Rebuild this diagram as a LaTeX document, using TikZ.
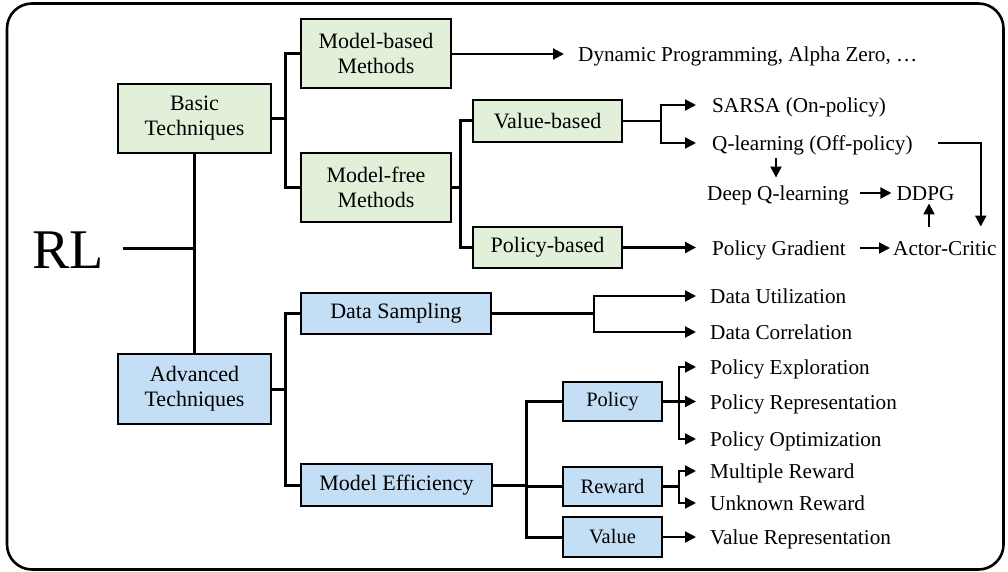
\documentclass[tikz,border=0pt]{standalone}
\usepackage{fontspec}
\setmainfont{Liberation Serif}
\usetikzlibrary{arrows.meta,calc}
\definecolor{gfill}{HTML}{E2F0D9}
\definecolor{bfill}{HTML}{C3DEF5}
\tikzset{
  box/.style={draw=black,line width=1.8pt,inner sep=0pt,align=center,
    font=\fontsize{22}{25}\selectfont},
  gbox/.style={box,fill=gfill},
  bbox/.style={box,fill=bfill},
  sbox/.style={bbox,font=\fontsize{20.5}{24}\selectfont,minimum width=99pt,minimum height=39pt},
  txt/.style={inner sep=0pt,text height=14.5pt,text depth=0pt,font=\fontsize{21.2}{24}\selectfont},
  tree/.style={line width=3pt},
  ln/.style={line width=2.1pt},
  arr/.style={line width=2.1pt,-{Triangle[length=11pt,width=11pt]}},
}
\begin{document}
\begin{tikzpicture}[x=1pt,y=1pt]
\useasboundingbox (0,0) rectangle (1008,-572);
\draw[line width=2.6pt,rounded corners=25pt] (7,-3.5) rectangle (1003.5,-569.5);

% left
\node[anchor=base west,inner sep=0pt,font=\fontsize{56}{60}\selectfont] (rl) at (32,-268) {RL};
\node[gbox,minimum width=153pt,minimum height=69pt] (basic) at (194.5,-118.5) {Basic\\Techniques};
\node[bbox,minimum width=153pt,minimum height=70pt] (adv) at (194.5,-389) {Advanced\\Techniques};

\node[gbox,minimum width=150pt,minimum height=69pt] (mb) at (376,-53.5) {Model-based\\Methods};
\node[gbox,minimum width=150pt,minimum height=69pt] (mf) at (376,-187.5) {Model-free\\Methods};
\node[gbox,minimum width=149pt,minimum height=42pt] (vb) at (547.5,-121) {Value-based};
\node[gbox,minimum width=149pt,minimum height=41pt] (pb) at (547.5,-247.5) {Policy-based};

\node[bbox,minimum width=190pt,minimum height=41pt] (ds) at (396,-313.5) {Data Sampling};
\node[bbox,minimum width=191pt,minimum height=42pt] (me) at (396.5,-485) {Model Efficiency};
\node[sbox] (pol) at (612.5,-401.5) {Policy};
\node[sbox] (rew) at (612.5,-486.5) {Reward};
\node[sbox,minimum height=40pt] (val) at (612.5,-537) {Value};

% texts
\node[txt,anchor=west] (dyn) at (578,-54) {Dynamic Programming, Alpha Zero, …};
\node[txt,anchor=west] (sarsa) at (712,-105) {SARSA (On-policy)};
\node[txt,anchor=west] (ql) at (712,-143) {Q-learning (Off-policy)};
\node[txt,anchor=west] (dq) at (707,-193) {Deep Q-learning};
\node[txt] (ddpg) at (925.5,-193) {DDPG};
\node[txt,anchor=west] (pg) at (712,-248) {Policy Gradient};
\node[txt,anchor=west] (ac) at (893,-248) {Actor-Critic};
\node[txt,anchor=west] (du) at (710,-296) {Data Utilization};
\node[txt,anchor=west] (dc) at (710,-332) {Data Correlation};
\node[txt,anchor=west] (pe) at (710,-367) {Policy Exploration};
\node[txt,anchor=west] (pr) at (710,-402) {Policy Representation};
\node[txt,anchor=west] (po) at (710,-439) {Policy Optimization};
\node[txt,anchor=west] (mr) at (710,-471) {Multiple Reward};
\node[txt,anchor=west] (ur) at (710,-503) {Unknown Reward};
\node[txt,anchor=west] (vr) at (710,-537) {Value Representation};

% tree lines
\coordinate (rlend) at ($(rl.base east)+(19,20)$);
\draw[tree] (basic.south) -- (adv.north);
\draw[tree] (rlend) -- (rlend -| basic.south);
\draw[tree] (basic.east) -- ++(15,0);
\draw[tree] (mb.west) -- ++(-15,0) |- (mf.west);
\draw[tree] (mf.east) -- ++(10,0);
\draw[tree] (vb.west) -- ++(-12,0) |- (pb.west);
\draw[tree] (adv.east) -- ++(15,0);
\draw[tree] (ds.west) -- ++(-15,0) |- (me.west);
\draw[tree] (me.east) -- ++(35,0);
\draw[tree] (pol.west) -- ++(-36,0) |- (val.west);
\draw[tree] (rew.west) -- ++(-36,0);

% arrows
\draw[arr] (mb.east |- dyn.west) -- ([xshift=-14pt]dyn.west);
\draw[ln] (vb.east) -- ++(38,0);
\draw[arr] ([xshift=38pt]vb.east) |- ([xshift=-16pt]sarsa.west);
\draw[arr] ([xshift=38pt]vb.east) |- ([xshift=-16pt]ql.west);
\draw[arr] ([xshift=25pt]ql.east) -| ($(ql.east |- ac.north)+(68,14)$);
\draw[arr] ($(ql.south west)+(64,-8)$) -- ($(ql.south west |- dq.north)+(64,8)$);
\draw[arr] ([xshift=11pt]dq.east) -- ([xshift=-5pt]ddpg.west);
\draw[arr] ($(ac.north -| ddpg.south)+(3.5,14)$) -- ([xshift=3.5pt,yshift=-3pt]ddpg.south);
\draw[arr] (pb.east) -- ([xshift=-16pt]pg.west |- pb.east);
\draw[arr] ([xshift=14pt]pg.east) -- ([xshift=-3pt]ac.west);

\draw[ln] (ds.east) -- ++(102,0);
\draw[arr] ([xshift=102pt]ds.east) |- ([xshift=-14pt]du.west);
\draw[arr] ([xshift=102pt]ds.east) |- ([xshift=-14pt]dc.west);

\draw[ln] (pol.east) -- ++(16,0);
\draw[arr] ([xshift=16pt]pol.east) |- ([xshift=-14pt]pe.west);
\draw[arr] ([xshift=16pt]pol.east) -- ([xshift=-14pt]pr.west |- pol.east);
\draw[arr] ([xshift=16pt]pol.east) |- ([xshift=-14pt]po.west);

\draw[ln] (rew.east) -- ++(16,0);
\draw[arr] ([xshift=16pt]rew.east) |- ([xshift=-14pt]mr.west);
\draw[arr] ([xshift=16pt]rew.east) |- ([xshift=-14pt]ur.west);

\draw[arr] (val.east) -- ([xshift=-14pt]vr.west);
\end{tikzpicture}
\end{document}
